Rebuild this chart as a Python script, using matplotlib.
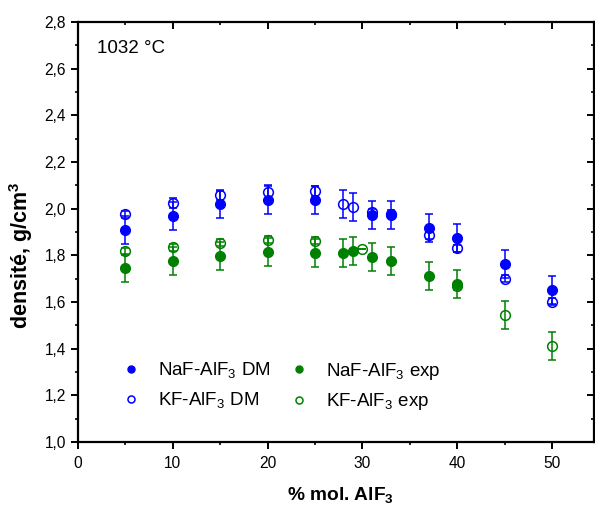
import matplotlib
matplotlib.use("Agg")
import matplotlib.pyplot as plt
from matplotlib.ticker import MultipleLocator, FuncFormatter

plt.rcParams["font.family"] = ["Liberation Sans", "DejaVu Sans"]
plt.rcParams["mathtext.fontset"] = "custom"
plt.rcParams["mathtext.rm"] = "Liberation Sans"
plt.rcParams["mathtext.bf"] = "Liberation Sans:bold"

# NaF-AlF3 DM (pleins, bleu)
x_naf_dm = [5, 10, 15, 20, 25, 31, 33, 37, 40, 45, 50]
y_naf_dm = [1.907, 1.970, 2.020, 2.038, 2.035, 1.971, 1.971, 1.916, 1.873, 1.764, 1.651]
e_naf_dm = [0.06, 0.06, 0.06, 0.06, 0.06, 0.06, 0.06, 0.06, 0.06, 0.06, 0.06]

# KF-AlF3 DM (ouverts, bleu)
x_kf_dm = [5, 10, 15, 20, 25, 28, 29, 31, 33, 37, 40, 45, 50]
y_kf_dm = [1.977, 2.024, 2.057, 2.071, 2.075, 2.021, 2.009, 1.985, 1.978, 1.888, 1.831, 1.700, 1.601]
e_kf_dm = [0.015, 0.02, 0.02, 0.03, 0.02, 0.06, 0.06, 0.015, 0.015, 0.02, 0.015, 0.015, 0.015]

# NaF-AlF3 exp (pleins, vert)
x_naf_exp = [5, 10, 15, 20, 25, 28, 29, 31, 33, 37, 40]
y_naf_exp = [1.744, 1.774, 1.798, 1.814, 1.808, 1.810, 1.820, 1.793, 1.774, 1.713, 1.678]
e_naf_exp = [0.06, 0.06, 0.06, 0.06, 0.06, 0.06, 0.06, 0.06, 0.06, 0.06, 0.06]

# KF-AlF3 exp (ouverts, vert)
x_kf_exp = [5, 10, 15, 20, 25, 30, 40, 45, 50]
y_kf_exp = [1.817, 1.835, 1.853, 1.867, 1.863, 1.828, 1.667, 1.543, 1.413]
e_kf_exp = [0.015, 0.015, 0.015, 0.015, 0.015, 0.0, 0.015, 0.06, 0.06]

blue = "#0000FF"
green = "#008000"

fig = plt.figure(figsize=(5.95, 5.09), dpi=100)
ax = fig.add_axes([0.131, 0.1316, 0.867, 0.8253])

ms = 7
eb = dict(fmt="none", elinewidth=1.1, capsize=3.2, capthick=1.1)

ax.errorbar(x_kf_dm, y_kf_dm, yerr=e_kf_dm, ecolor=blue, **eb)
ax.errorbar(x_kf_exp, y_kf_exp, yerr=e_kf_exp, ecolor=green, **eb)
ax.errorbar(x_naf_dm, y_naf_dm, yerr=e_naf_dm, ecolor=blue, **eb)
ax.errorbar(x_naf_exp, y_naf_exp, yerr=e_naf_exp, ecolor=green, **eb)

ax.plot(x_kf_dm, y_kf_dm, "o", ms=ms, mfc="none", mec=blue, mew=1.1, label="KF-AlF$_3$ DM")
ax.plot(x_kf_exp, y_kf_exp, "o", ms=ms, mfc="none", mec=green, mew=1.1, label="KF-AlF$_3$ exp")
ax.plot(x_naf_dm, y_naf_dm, "o", ms=ms, color=blue, label="NaF-AlF$_3$ DM")
ax.plot(x_naf_exp, y_naf_exp, "o", ms=ms, color=green, label="NaF-AlF$_3$ exp")

ax.set_xlim(0, 54.4)
ax.set_ylim(1.0, 2.8)
ax.xaxis.set_major_locator(MultipleLocator(10))
ax.xaxis.set_minor_locator(MultipleLocator(5))
ax.yaxis.set_major_locator(MultipleLocator(0.2))
ax.yaxis.set_minor_locator(MultipleLocator(0.1))
ax.yaxis.set_major_formatter(FuncFormatter(lambda v, p: f"{v:.1f}".replace(".", ",")))

for s in ax.spines.values():
    s.set_linewidth(1.6)
ax.tick_params(axis="both", which="major", direction="out", length=5, width=1.4, labelsize=11.2)
ax.tick_params(axis="both", which="minor", direction="out", length=2.4, width=1.2)
ax.tick_params(axis="x", which="major", pad=5)
ax.tick_params(top=True, right=True, which="both")
# ticks en haut et a droite vers l'interieur
for t in ax.xaxis.get_major_ticks() + ax.xaxis.get_minor_ticks():
    t.tick2line.set_marker(3)
for t in ax.yaxis.get_major_ticks() + ax.yaxis.get_minor_ticks():
    t.tick2line.set_marker(0)

ax.set_xlabel("% mol. AlF$_\\mathbf{3}$", fontsize=13.8, fontweight="bold", va="top")
ax.xaxis.set_label_coords(0.508, -0.103)
ax.set_ylabel("densité, g/cm$^\\mathbf{3}$", fontsize=15.5, fontweight="bold")
ax.yaxis.set_label_coords(-0.083, 0.445)

ax.text(0.037, 0.958, "1032 °C", transform=ax.transAxes, fontsize=13.5, va="top", ha="left")

h, l = ax.get_legend_handles_labels()
order = [2, 0, 3, 1]
leg = ax.legend([h[i] for i in order], [l[i] for i in order], ncol=2, frameon=False,
                loc="upper left", bbox_to_anchor=(0.070, 0.211), fontsize=13.5,
                markerscale=0.72, handletextpad=0.94, columnspacing=1.0, labelspacing=0.5,
                handlelength=1.0, borderaxespad=0)

fig.savefig("out.png", dpi=100)
